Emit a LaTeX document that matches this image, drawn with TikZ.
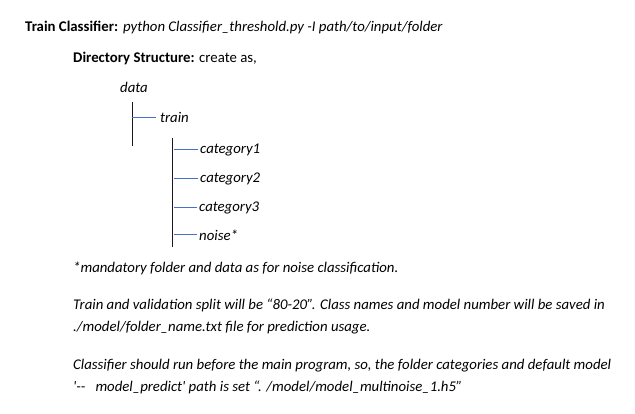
\documentclass[tikz,border=0pt]{standalone}
\usepackage{fontspec}
\setmainfont{Carlito}
\usepackage{tikz}
\usetikzlibrary{positioning,calc}
\definecolor{branchblue}{HTML}{4472C4}
\definecolor{treegray}{HTML}{1A1A1A}

\begin{document}
\begin{tikzpicture}[x=1pt, y=-1pt,
    txt/.style={anchor=base west, inner sep=0pt, font=\fontsize{14.8}{17}\selectfont},
    itxt/.style={txt, font=\fontsize{14.8}{17}\selectfont\itshape},
    trunk/.style={draw=treegray, line width=0.9pt},
    branch/.style={draw=branchblue, line width=0.8pt}
]
    \useasboundingbox[fill=white] (0,0) rectangle (635,413);

    % Header lines
    \node[txt] (title) at (25,31) {\textbf{Train Classifier:}\hspace{5pt}\textit{python Classifier\_threshold.py -I path/to/input/folder}};
    \node[txt] (dirs) at (73,62) {\textbf{Directory Structure:} create as,};

    % Directory tree
    \node[itxt] (data) at (120,92) {data};
    \node[itxt] (train) at (160,122) {train};
    \node[itxt] (cat1) at (200,153) {category1};
    \node[itxt] (cat2) at (200,182) {category2};
    \node[itxt] (cat3) at (199,211) {category3};
    \node[itxt] (noise) at (199,240) {noise*};

    \coordinate (datatop) at (132,102);
    \coordinate (databot) at (132,146);
    \coordinate (traintop) at (172,138);
    \coordinate (trainbot) at (172,247);

    \draw[trunk] (datatop) -- (databot);
    \draw[trunk] (traintop) -- (trainbot);
    \draw[branch] (datatop |- train.west) -- ([xshift=-4pt]train.west);
    \foreach \leaf in {cat1,cat2,cat3,noise}
        \draw[branch] ([xshift=2pt]traintop |- \leaf.west) -- ([xshift=-2pt]\leaf.west);

    % Notes
    \node[itxt] (note) at (73,272) {*mandatory folder and data as for noise classification.};
    \node[itxt] (split) at (73,309) {Train and validation split will be “80-20”. Class names and model number will be saved in};
    \node[itxt] (splitb) at (73,331) {./model/folder\_name.txt file for prediction usage.};
    \node[itxt] (run) at (73,369) {Classifier should run before the main program, so, the folder categories and default model};
    \node[itxt] (runb) at (73,391) {\textquotesingle-{}-\hspace{10pt}model\_predict\textquotesingle{} path is set “. /model/model\_multinoise\_1.h5”};
\end{tikzpicture}
\end{document}
